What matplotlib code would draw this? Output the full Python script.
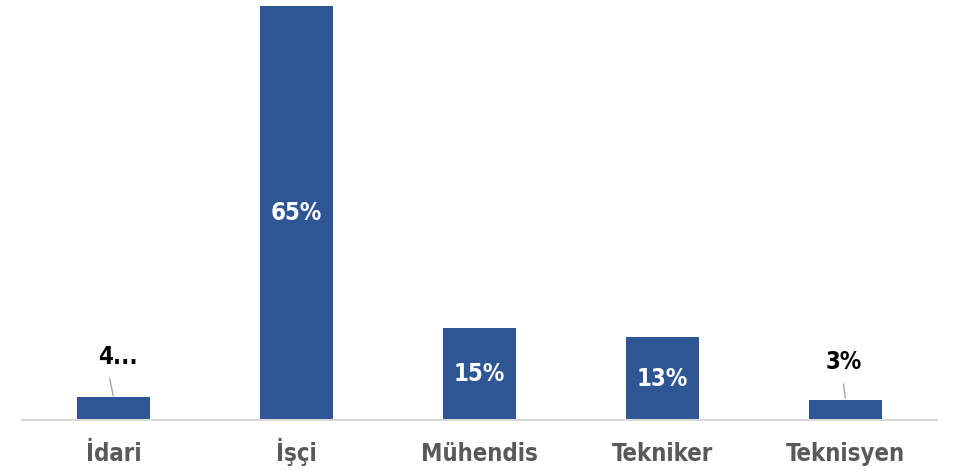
import matplotlib
matplotlib.use("Agg")
import matplotlib.pyplot as plt

categories = ["İdari", "İşçi", "Mühendis", "Tekniker", "Teknisyen"]
values = [3.6, 65.0, 14.4, 13.0, 3.2]
labels = ["4...", "65%", "15%", "13%", "3%"]
inside = [False, True, True, True, False]

BAR = "#2E5594"
W, H = 962, 471
fig = plt.figure(figsize=(W / 100, H / 100), dpi=100)
left, right = 22 / W, 937 / W
bottom = 1 - 420 / H
ax = fig.add_axes([left, bottom, right - left, 1 - bottom])
ymax = 65.0 * 420 / 414
ax.set_ylim(0, ymax)
ax.set_xlim(-0.5, len(categories) - 0.5)

x = list(range(len(categories)))
ax.bar(x, values, width=0.395, color=BAR, zorder=2)

font = "DejaVu Sans"
stretch = "condensed"
FS = 17.2

for xi, v, lab, ins in zip(x, values, labels, inside):
    if ins:
        ax.text(xi, v / 2, lab, ha="center", va="center", color="white",
                fontsize=FS, fontweight="bold", family=font, fontstretch=stretch)
for xi, v, lab, ins, off, rel in zip(x, values, labels, inside,
                                     [(3, 29), None, None, None, (-1.5, 27)],
                                     [0.25, None, None, None, 0.47]):
    if not ins:
        ax.annotate(lab, xy=(xi, v), xytext=off, textcoords="offset points",
                    ha="center", va="center", color="black", fontsize=FS,
                    fontweight="bold", family=font, fontstretch=stretch,
                    arrowprops=dict(arrowstyle="-", color="#A6A6A6", lw=1,
                                    shrinkA=5, shrinkB=1, relpos=(rel, 0)))

for s in ["top", "right", "left"]:
    ax.spines[s].set_visible(False)
ax.spines["bottom"].set_color("#D9D9D9")
ax.spines["bottom"].set_linewidth(1.5)
ax.set_yticks([])
ax.set_xticks(x)
ax.set_xticklabels(categories, fontsize=FS, fontweight="bold", color="#595959",
                   family=font, fontstretch=stretch, va="baseline")
ax.tick_params(axis="x", length=0, pad=29.5)

fig.savefig("out.png", dpi=100)
